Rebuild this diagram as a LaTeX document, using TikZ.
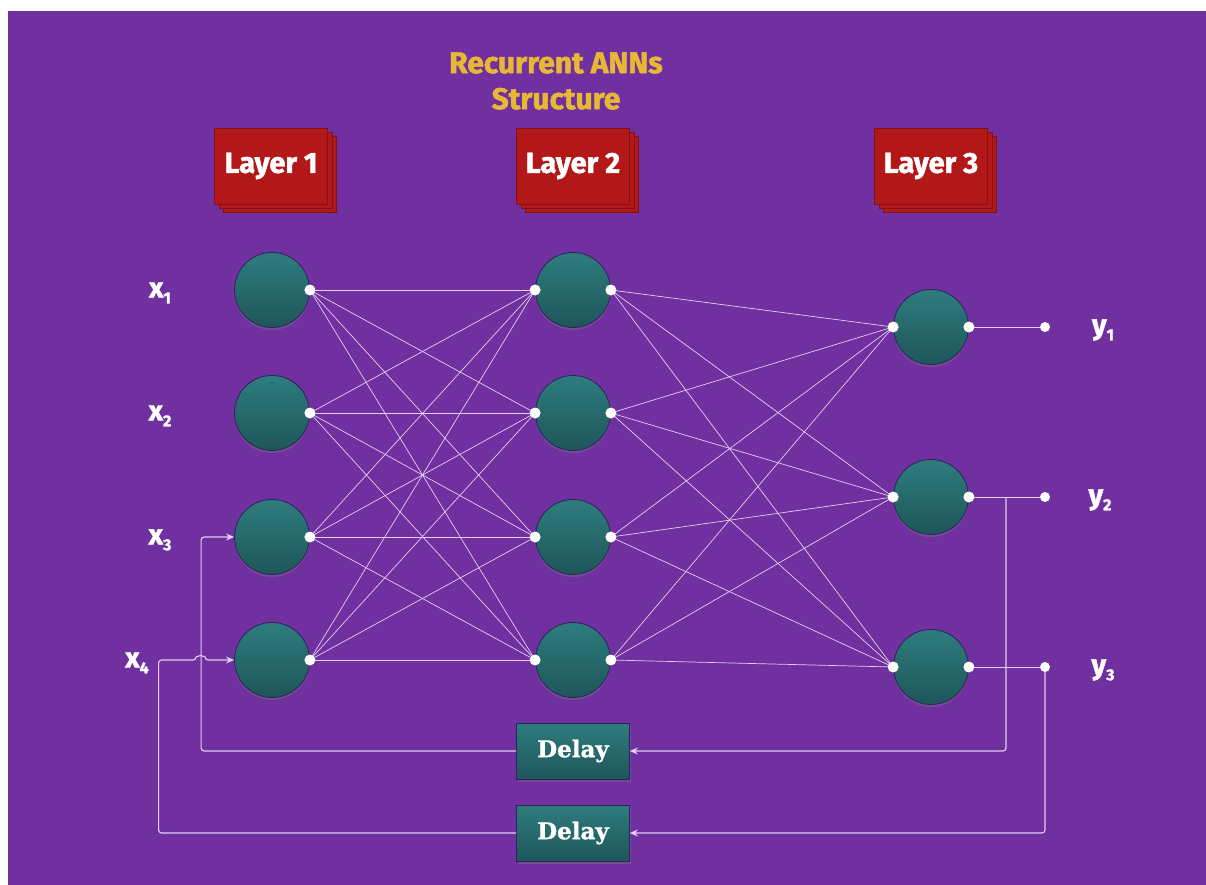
\documentclass[tikz,border=0pt]{standalone}
\usepackage{fontspec}
\setmainfont{Fira Sans}[BoldFeatures={FakeBold=1.6}]
\newfontfamily\delayfont{DejaVu Serif}[BoldFeatures={FakeBold=1.2}]
\usetikzlibrary{arrows.meta,shadows}

\definecolor{bgpurple}{RGB}{112,48,160}
\definecolor{titleyellow}{RGB}{232,184,52}
\definecolor{layerred}{RGB}{178,24,24}
\definecolor{layeredge}{RGB}{130,16,20}
\definecolor{tealtop}{RGB}{46,124,126}
\definecolor{tealbot}{RGB}{30,86,90}
\definecolor{neuronedge}{RGB}{40,36,90}
\definecolor{linec}{RGB}{228,206,242}

\newcommand{\lab}[2]{#1\raisebox{-0.4ex}{\fontsize{16}{16}\selectfont #2}}

\tikzset{
    neuron/.style={circle, minimum size=75pt, inner sep=0pt, draw=neuronedge, line width=0.8pt,
        top color=tealtop, bottom color=tealbot,
        drop shadow={opacity=0.35, shadow xshift=0pt, shadow yshift=-2.5pt}},
    layerbox/.style={rectangle, minimum width=113pt, minimum height=76pt, inner sep=0pt,
        fill=layerred, draw=layeredge, line width=0.6pt, text=white,
        font=\bfseries\fontsize{29}{30}\selectfont,
        double copy shadow={shadow xshift=4.5pt, shadow yshift=-4pt, fill=layerred, draw=layeredge}},
    delaybox/.style={rectangle, minimum width=113pt, minimum height=56pt, inner sep=0pt,
        draw=neuronedge, line width=0.6pt, top color=tealtop, bottom color=tealbot, text=white,
        font=\delayfont\bfseries\fontsize{23}{24}\selectfont,
        drop shadow={opacity=0.35, shadow xshift=1pt, shadow yshift=-2.5pt}},
    iolab/.style={text=white, font=\bfseries\fontsize{28}{30}\selectfont, inner sep=0pt},
    conn/.style={draw=linec, line width=0.7pt},
    fb/.style={draw=linec, line width=1.1pt, rounded corners=3pt, -{Stealth[length=8pt,width=7pt]}},
}

\begin{document}
\begin{tikzpicture}[x=1pt, y=-1pt]
    \useasboundingbox (0,0) rectangle (1206,885);
    \fill[white] (0,0) rectangle (1206,885);
    \fill[bgpurple] (8,11) rectangle (1206,885);

    % title
    \node[text=titleyellow, align=center, font=\bfseries\fontsize{30}{36}\selectfont] (title) at (556,81) {Recurrent ANNs\\Structure};

    % layer headers
    \node[layerbox] (lay1) at (271,166) {Layer 1};
    \node[layerbox] (lay2) at (573,166) {Layer 2};
    \node[layerbox] (lay3) at (931,166) {Layer 3};

    % neurons
    \node[neuron] (l1n1) at (272,290) {};
    \node[neuron] (l1n2) at (272,413) {};
    \node[neuron] (l1n3) at (272,537) {};
    \node[neuron] (l1n4) at (272,660) {};

    \node[neuron] (l2n1) at (573,290) {};
    \node[neuron] (l2n2) at (573,413) {};
    \node[neuron] (l2n3) at (573,537) {};
    \node[neuron] (l2n4) at (573,660) {};

    \node[neuron] (l3n1) at (931,327) {};
    \node[neuron] (l3n2) at (931,497) {};
    \node[neuron] (l3n3) at (931,667) {};

    % delays
    \node[delaybox] (del1) at (573,751) {Delay};
    \node[delaybox] (del2) at (573,833) {Delay};

    % outputs
    \coordinate (out1) at (1045,327);
    \coordinate (out2) at (1045,497);
    \coordinate (out3) at (1045,667);
    \coordinate (fb2) at (1006,497);

    % labels
    \node[iolab] (x1) at (160,293) {\lab{x}{1}};
    \node[iolab] (x2) at (160,416) {\lab{x}{2}};
    \node[iolab] (x3) at (160,540) {\lab{x}{3}};
    \node[iolab] (x4) at (137,663) {\lab{x}{4}};
    \node[iolab] (y1) at (1103,330) {\lab{y}{1}};
    \node[iolab] (y2) at (1100,500) {\lab{y}{2}};
    \node[iolab] (y3) at (1103,670) {\lab{y}{3}};

    % weights
    \foreach \i in {1,2,3,4} {
        \foreach \j in {1,2,3,4} {
            \draw[conn] (l1n\i.east) -- (l2n\j.west);
        }
        \foreach \j in {1,2,3} {
            \draw[conn] (l2n\i.east) -- (l3n\j.west);
        }
    }
    \draw[conn, line width=1pt] (l3n1.east) -- (out1);
    \draw[conn, line width=1pt] (l3n2.east) -- (out2);
    \draw[conn, line width=1pt] (l3n3.east) -- (out3);

    % feedback
    \draw[fb] (fb2) |- (del1.east);
    \draw[fb] (out3) |- (del2.east);
    \draw[fb] (del1.west) -| ([xshift=-33pt]l1n3.west) -- (l1n3.west);
    \draw[fb] (del2.west) -| ([xshift=-75.5pt]l1n4.west) -- ([xshift=-38pt]l1n4.west)
        arc[start angle=180, end angle=360, radius=4.5] -- (l1n4.west);

    % dots
    \foreach \n in {l1n1,l1n2,l1n3,l1n4,l2n1,l2n2,l2n3,l2n4,l3n1,l3n2,l3n3} {
        \fill[white] (\n.east) circle(5.5);
    }
    \foreach \n in {l2n1,l2n2,l2n3,l2n4,l3n1,l3n2,l3n3} {
        \fill[white] (\n.west) circle(5.5);
    }
    \fill[white] (out1) circle(5);
    \fill[white] (out2) circle(5);
    \fill[white] (out3) circle(5);
\end{tikzpicture}
\end{document}
